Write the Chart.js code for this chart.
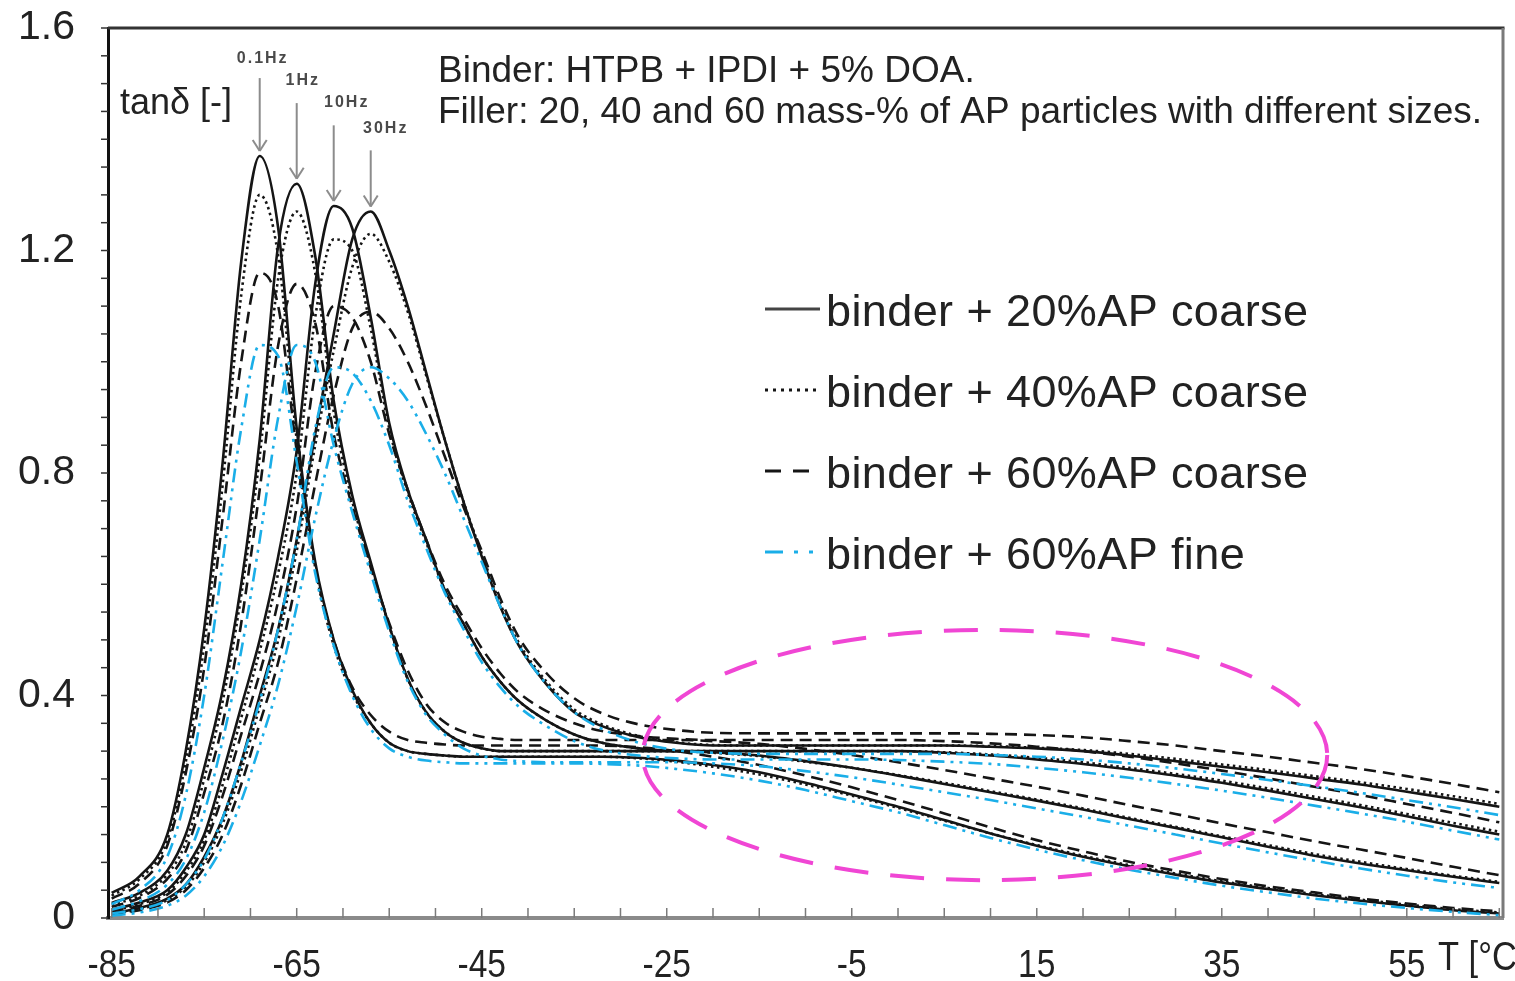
<!DOCTYPE html>
<html>
<head>
<meta charset="utf-8">
<title>tanδ vs T</title>
<script src="https://cdn.jsdelivr.net/npm/chart.js@4.4.1/dist/chart.umd.min.js"></script>
<style>
  html, body { margin: 0; padding: 0; background: #fff; }
  #wrap { width: 1515px; height: 981px; }
</style>
</head>
<body>
<div id="wrap"><canvas id="chartTanDelta" width="1515" height="981"></canvas></div>
<script>
// Temperatures (°C) shared by every curve
const temperaturas = [-85, -82, -79, -77, -75, -73, -71, -69, -67, -65, -63, -61, -59, -57, -55,
  -53, -51, -49, -47, -45, -43, -41, -38, -35, -32, -28, -24, -20, -15, -10,
  -5, 0, 5, 10, 15, 20, 25, 30, 35, 40, 45, 50, 55, 60, 65];

const frecuencias = ['0.1Hz', '1Hz', '10Hz', '30Hz'];
const materiales = ['binder + 20%AP coarse', 'binder + 40%AP coarse', 'binder + 60%AP coarse', 'binder + 60%AP fine'];

const xTicks = [-85, -65, -45, -25, -5, 15, 35, 55];
const yTicks = [0, 0.4, 0.8, 1.2, 1.6];

// tanδ, 20% AP coarse
const coarse20_01Hz = [0.045, 0.075, 0.15, 0.30, 0.52, 0.82, 1.18, 1.37, 1.24, 0.88, 0.64, 0.50, 0.41, 0.35, 0.315, 0.30, 0.295, 0.292, 0.29, 0.29, 0.29, 0.29, 0.29, 0.29, 0.29, 0.288, 0.283, 0.275, 0.262, 0.243, 0.222, 0.20, 0.176, 0.152, 0.13, 0.11, 0.093, 0.078, 0.064, 0.052, 0.041, 0.031, 0.022, 0.014, 0.008];
const coarse20_1Hz = [0.027, 0.045, 0.085, 0.15, 0.27, 0.41, 0.60, 0.86, 1.21, 1.32, 1.19, 0.93, 0.76, 0.64, 0.525, 0.43, 0.37, 0.335, 0.315, 0.305, 0.30, 0.30, 0.30, 0.30, 0.30, 0.30, 0.30, 0.298, 0.292, 0.282, 0.27, 0.256, 0.241, 0.226, 0.211, 0.195, 0.178, 0.162, 0.145, 0.128, 0.112, 0.098, 0.086, 0.074, 0.063];
const coarse20_10Hz = [0.015, 0.028, 0.05, 0.09, 0.15, 0.26, 0.38, 0.50, 0.65, 0.84, 1.14, 1.28, 1.24, 1.08, 0.89, 0.77, 0.68, 0.59, 0.53, 0.47, 0.425, 0.39, 0.355, 0.33, 0.315, 0.305, 0.30, 0.30, 0.30, 0.30, 0.30, 0.30, 0.297, 0.292, 0.285, 0.277, 0.267, 0.256, 0.243, 0.229, 0.214, 0.199, 0.183, 0.166, 0.15];
const coarse20_30Hz = [0.008, 0.018, 0.035, 0.06, 0.11, 0.18, 0.28, 0.40, 0.52, 0.68, 0.87, 1.05, 1.22, 1.27, 1.20, 1.10, 0.98, 0.86, 0.75, 0.65, 0.56, 0.49, 0.42, 0.37, 0.345, 0.325, 0.315, 0.31, 0.31, 0.31, 0.31, 0.31, 0.31, 0.308, 0.305, 0.30, 0.292, 0.282, 0.272, 0.262, 0.251, 0.24, 0.227, 0.214, 0.20];

// tanδ, 40% AP coarse
const coarse40_01Hz = [0.04, 0.07, 0.14, 0.28, 0.49, 0.78, 1.12, 1.30, 1.19, 0.86, 0.63, 0.49, 0.405, 0.35, 0.315, 0.30, 0.295, 0.292, 0.29, 0.29, 0.29, 0.29, 0.29, 0.29, 0.29, 0.287, 0.281, 0.272, 0.258, 0.24, 0.22, 0.198, 0.175, 0.152, 0.131, 0.112, 0.095, 0.08, 0.066, 0.054, 0.043, 0.033, 0.024, 0.016, 0.01];
const coarse40_1Hz = [0.024, 0.04, 0.078, 0.135, 0.25, 0.39, 0.58, 0.83, 1.15, 1.27, 1.16, 0.91, 0.75, 0.635, 0.525, 0.43, 0.37, 0.335, 0.315, 0.305, 0.30, 0.30, 0.30, 0.30, 0.30, 0.30, 0.30, 0.297, 0.291, 0.281, 0.27, 0.257, 0.243, 0.228, 0.213, 0.197, 0.18, 0.164, 0.147, 0.131, 0.115, 0.101, 0.088, 0.076, 0.065];
const coarse40_10Hz = [0.013, 0.025, 0.046, 0.083, 0.14, 0.24, 0.36, 0.48, 0.62, 0.80, 1.08, 1.22, 1.20, 1.06, 0.88, 0.765, 0.675, 0.59, 0.53, 0.47, 0.425, 0.39, 0.355, 0.33, 0.315, 0.305, 0.30, 0.30, 0.30, 0.30, 0.30, 0.30, 0.298, 0.294, 0.288, 0.28, 0.27, 0.259, 0.247, 0.233, 0.218, 0.203, 0.187, 0.171, 0.155];
const coarse40_30Hz = [0.007, 0.016, 0.032, 0.056, 0.10, 0.17, 0.265, 0.38, 0.50, 0.66, 0.85, 1.02, 1.17, 1.23, 1.18, 1.09, 0.975, 0.86, 0.75, 0.655, 0.565, 0.495, 0.425, 0.375, 0.348, 0.327, 0.316, 0.311, 0.31, 0.31, 0.31, 0.31, 0.31, 0.309, 0.306, 0.302, 0.295, 0.286, 0.276, 0.266, 0.255, 0.244, 0.232, 0.219, 0.205];

// tanδ, 60% AP coarse
const coarse60_01Hz = [0.035, 0.062, 0.13, 0.26, 0.45, 0.72, 1.00, 1.16, 1.10, 0.84, 0.63, 0.50, 0.415, 0.365, 0.335, 0.32, 0.315, 0.312, 0.31, 0.31, 0.31, 0.31, 0.31, 0.31, 0.31, 0.307, 0.30, 0.29, 0.275, 0.256, 0.235, 0.212, 0.188, 0.163, 0.14, 0.12, 0.101, 0.085, 0.07, 0.057, 0.046, 0.035, 0.026, 0.018, 0.012];
const coarse60_1Hz = [0.02, 0.036, 0.07, 0.12, 0.225, 0.35, 0.53, 0.77, 1.03, 1.14, 1.07, 0.87, 0.74, 0.63, 0.53, 0.445, 0.385, 0.352, 0.335, 0.326, 0.322, 0.32, 0.32, 0.32, 0.32, 0.32, 0.32, 0.318, 0.313, 0.304, 0.293, 0.28, 0.266, 0.251, 0.236, 0.22, 0.203, 0.187, 0.17, 0.154, 0.138, 0.123, 0.108, 0.092, 0.077];
const coarse60_10Hz = [0.012, 0.022, 0.042, 0.075, 0.13, 0.22, 0.33, 0.44, 0.57, 0.74, 0.98, 1.10, 1.08, 1.0, 0.87, 0.77, 0.68, 0.60, 0.54, 0.485, 0.44, 0.405, 0.372, 0.35, 0.336, 0.327, 0.322, 0.32, 0.32, 0.32, 0.32, 0.32, 0.318, 0.314, 0.308, 0.30, 0.29, 0.278, 0.265, 0.251, 0.236, 0.221, 0.205, 0.189, 0.172];
const coarse60_30Hz = [0.006, 0.014, 0.028, 0.05, 0.09, 0.15, 0.24, 0.35, 0.46, 0.61, 0.78, 0.94, 1.06, 1.09, 1.06, 1.0, 0.92, 0.83, 0.74, 0.66, 0.575, 0.505, 0.44, 0.395, 0.368, 0.348, 0.338, 0.333, 0.332, 0.332, 0.332, 0.332, 0.332, 0.331, 0.329, 0.325, 0.318, 0.31, 0.30, 0.29, 0.279, 0.268, 0.255, 0.241, 0.226];

// tanδ, 60% AP fine
const fine60_01Hz = [0.025, 0.05, 0.11, 0.22, 0.40, 0.64, 0.88, 1.03, 1.01, 0.82, 0.62, 0.49, 0.40, 0.34, 0.305, 0.29, 0.283, 0.28, 0.278, 0.278, 0.278, 0.278, 0.278, 0.278, 0.277, 0.274, 0.268, 0.26, 0.247, 0.23, 0.21, 0.19, 0.167, 0.144, 0.123, 0.104, 0.087, 0.072, 0.058, 0.046, 0.035, 0.026, 0.018, 0.011, 0.005];
const fine60_1Hz = [0.015, 0.03, 0.06, 0.105, 0.19, 0.32, 0.48, 0.68, 0.90, 1.03, 1.0, 0.85, 0.73, 0.62, 0.515, 0.425, 0.365, 0.33, 0.305, 0.292, 0.285, 0.282, 0.28, 0.28, 0.28, 0.28, 0.28, 0.278, 0.273, 0.264, 0.253, 0.24, 0.226, 0.212, 0.197, 0.182, 0.166, 0.15, 0.134, 0.118, 0.103, 0.089, 0.076, 0.064, 0.054];
const fine60_10Hz = [0.008, 0.016, 0.032, 0.06, 0.105, 0.18, 0.28, 0.39, 0.52, 0.68, 0.88, 0.99, 0.98, 0.93, 0.85, 0.75, 0.665, 0.585, 0.52, 0.46, 0.415, 0.38, 0.345, 0.318, 0.302, 0.292, 0.287, 0.285, 0.285, 0.285, 0.285, 0.284, 0.281, 0.277, 0.27, 0.262, 0.252, 0.241, 0.229, 0.216, 0.202, 0.188, 0.173, 0.157, 0.141];
const fine60_30Hz = [0.004, 0.01, 0.022, 0.04, 0.075, 0.13, 0.21, 0.31, 0.42, 0.56, 0.72, 0.86, 0.96, 0.99, 0.97, 0.93, 0.87, 0.80, 0.72, 0.64, 0.56, 0.49, 0.42, 0.37, 0.34, 0.315, 0.302, 0.297, 0.295, 0.295, 0.295, 0.295, 0.295, 0.293, 0.29, 0.285, 0.278, 0.269, 0.259, 0.248, 0.237, 0.225, 0.212, 0.199, 0.185];

// one row per material, columns in the order of "frecuencias"
const curvas = [
  [coarse20_01Hz, coarse20_1Hz, coarse20_10Hz, coarse20_30Hz],
  [coarse40_01Hz, coarse40_1Hz, coarse40_10Hz, coarse40_30Hz],
  [coarse60_01Hz, coarse60_1Hz, coarse60_10Hz, coarse60_30Hz],
  [fine60_01Hz, fine60_1Hz, fine60_10Hz, fine60_30Hz]
];

// Ellipse marking the high temperature region (centre and half axes in T / tanδ)
const elipse = { t: 9.4, v: 0.293, rt: 37, rv: 0.225 };

const estilos = [
  { color: '#151515', dash: [], legendDash: [] },
  { color: '#151515', dash: [2.5, 3.5], legendDash: [3, 5] },
  { color: '#151515', dash: [12, 7], legendDash: [16, 12] },
  { color: '#1aaee8', dash: [14, 6, 3, 6, 3, 6], legendDash: [18, 11, 4, 11, 4, 11] }
];

const FUENTE = '"Liberation Sans", Arial, sans-serif';

document.addEventListener('DOMContentLoaded', function () {
  crearGrafica();
});

function crearDatasets() {
  const datasets = [];
  // fine first so that the black lines stay on top
  [3, 2, 1, 0].forEach(m => {
    curvas[m].forEach((valores, f) => {
      datasets.push({
        label: materiales[m] + ' ' + frecuencias[f],
        data: valores.map((v, i) => ({ x: temperaturas[i], y: v })),
        borderColor: estilos[m].color,
        borderDash: estilos[m].dash,
        borderWidth: 2.6,
        pointRadius: 0,
        fill: false,
        cubicInterpolationMode: 'monotone'
      });
    });
  });
  return datasets;
}

function linea(ctx, x1, y1, x2, y2) {
  ctx.beginPath();
  ctx.moveTo(x1, y1);
  ctx.lineTo(x2, y2);
  ctx.stroke();
}

// condensed text, like the narrow font of the original
function textoEstrecho(ctx, texto, x, y, escala) {
  ctx.save();
  ctx.translate(x, y);
  ctx.scale(escala, 1);
  ctx.fillText(texto, 0, 0);
  ctx.restore();
}

const decoracion = {
  id: 'decoracion',
  afterDraw(chart) {
    const { ctx, chartArea: area, scales: { x, y } } = chart;
    ctx.save();

    // top and right frame
    ctx.lineWidth = 3;
    ctx.strokeStyle = '#333';
    linea(ctx, area.left, area.top, area.right + 1.5, area.top);
    ctx.strokeStyle = '#7a7a7a';
    linea(ctx, area.right, area.top, area.right, area.bottom);

    // minor ticks: x inwards, y outwards
    ctx.strokeStyle = '#7a7a7a';
    ctx.lineWidth = 1.5;
    x.ticks.forEach(t => {
      const px = x.getPixelForValue(t.value);
      linea(ctx, px, area.bottom, px, area.bottom - 10);
    });
    ctx.strokeStyle = '#333';
    y.ticks.forEach(t => {
      const py = y.getPixelForValue(t.value);
      linea(ctx, area.left - 7, py, area.left, py);
    });

    // x tick labels and axis title
    ctx.fillStyle = '#222';
    ctx.font = '39px ' + FUENTE;
    ctx.textAlign = 'center';
    ctx.textBaseline = 'alphabetic';
    xTicks.forEach(v => textoEstrecho(ctx, String(v), x.getPixelForValue(v), 977, 0.86));
    ctx.textAlign = 'left';
    ctx.font = '41px ' + FUENTE;
    textoEstrecho(ctx, 'T [°C', 1438, 970, 0.84);

    // dashed ellipse
    const cx = x.getPixelForValue(elipse.t);
    const cy = y.getPixelForValue(elipse.v);
    const rx = x.getPixelForValue(elipse.t + elipse.rt) - cx;
    const ry = cy - y.getPixelForValue(elipse.v + elipse.rv);
    ctx.strokeStyle = '#f046d4';
    ctx.lineWidth = 4;
    ctx.setLineDash([34, 22]);
    ctx.beginPath();
    ctx.ellipse(cx, cy, rx, ry, 0, 0, Math.PI * 2);
    ctx.stroke();
    ctx.setLineDash([]);

    // arrows to the peaks of the 20% curves
    const arrowTop = [1.51, 1.465, 1.425, 1.38];
    const labelY = [1.545, 1.505, 1.466, 1.42];
    const labelDx = [3, 6, 13, 15];
    ctx.strokeStyle = '#8c8c8c';
    ctx.lineWidth = 2;
    ctx.fillStyle = '#4a4a4a';
    ctx.font = 'bold 16px ' + FUENTE;
    ctx.letterSpacing = '2px';
    ctx.textAlign = 'center';
    ctx.textBaseline = 'middle';
    curvas[0].forEach((valores, f) => {
      const pico = Math.max(...valores);
      const px = x.getPixelForValue(temperaturas[valores.indexOf(pico)]);
      const tip = y.getPixelForValue(pico) - 5;
      linea(ctx, px, y.getPixelForValue(arrowTop[f]), px, tip);
      linea(ctx, px - 7, tip - 11, px, tip);
      linea(ctx, px + 7, tip - 11, px, tip);
      ctx.fillText(frecuencias[f], px + labelDx[f], y.getPixelForValue(labelY[f]));
    });
    ctx.letterSpacing = '0px';

    // texts
    ctx.fillStyle = '#222';
    ctx.textAlign = 'left';
    ctx.textBaseline = 'alphabetic';
    ctx.font = '36px ' + FUENTE;
    ctx.fillText('tanδ [-]', area.left + 12, 114);
    ctx.font = '37px ' + FUENTE;
    ctx.fillText('Binder: HTPB + IPDI + 5% DOA.', 438, 82);
    ctx.fillText('Filler: 20, 40 and 60 mass-% of AP particles with different sizes.', 438, 123);

    // legend
    ctx.font = '45px ' + FUENTE;
    ctx.letterSpacing = '0.4px';
    materiales.forEach((nombre, m) => {
      const base = 326 + 81 * m;
      ctx.strokeStyle = m === 0 ? '#444' : estilos[m].color;
      ctx.lineWidth = 3;
      ctx.setLineDash(estilos[m].legendDash);
      linea(ctx, 765, base - 17, 820, base - 17);
      ctx.setLineDash([]);
      ctx.fillStyle = '#222';
      ctx.fillText(nombre, 826, base);
    });

    ctx.restore();
  }
};

function crearGrafica() {
  const canvas = document.getElementById('chartTanDelta');
  const ctx = canvas.getContext('2d');

  const marcasX = [];
  for (let v = -85; v <= 65; v += 5) marcasX.push(v);
  const marcasY = [];
  for (let i = 0; i <= 32; i++) marcasY.push(Math.round(i * 5) / 100);

  new Chart(ctx, {
    type: 'line',
    data: { datasets: crearDatasets() },
    options: {
      responsive: false,
      animation: false,
      events: [],
      layout: { padding: { top: 28, right: 12, left: 0, bottom: 0 } },
      plugins: {
        legend: { display: false },
        tooltip: { enabled: false }
      },
      scales: {
        x: {
          type: 'linear',
          min: -85.4,
          max: 65.4,
          afterFit: s => { s.height = 63; },
          afterBuildTicks: s => { s.ticks = marcasX.map(v => ({ value: v })); },
          grid: { display: false, drawTicks: false },
          border: { display: true, color: '#8a8a8a', width: 4 },
          ticks: { display: false }
        },
        y: {
          type: 'linear',
          min: 0,
          max: 1.6,
          afterFit: s => { s.width = 108; },
          afterBuildTicks: s => { s.ticks = marcasY.map(v => ({ value: v })); },
          grid: { display: true, drawOnChartArea: false, drawTicks: true, tickLength: 31, color: 'rgba(0,0,0,0)' },
          border: { display: true, color: '#111', width: 3 },
          ticks: {
            autoSkip: false,
            padding: 2,
            color: '#222',
            font: { family: FUENTE, size: 41 },
            callback: v => {
              const t = yTicks.find(t => Math.abs(t - v) < 1e-6);
              if (t === undefined) return '';
              return t === 0 ? '0' : t.toFixed(1);
            }
          }
        }
      }
    },
    plugins: [decoracion]
  });
}
</script>
</body>
</html>
